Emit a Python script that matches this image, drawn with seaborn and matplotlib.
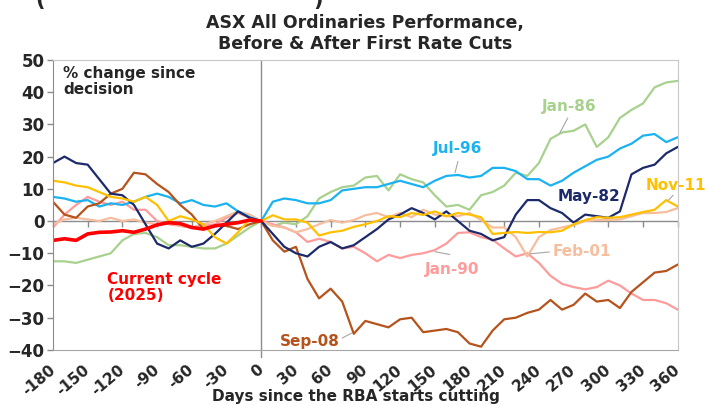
import numpy as np
import pandas as pd
import seaborn as sns
import matplotlib.pyplot as plt

# days since first cut (sampled every 10 days)
days = list(range(-180, 361, 10))
days_current = list(range(-180, 1, 10))

may_82 = [18, 20, 18, 17.5, 13, 8.5, 8, 5, -1, -7, -8.5, -6, -8, -7, -4, -0.5, 3, 1, 0,
          -4, -8, -10, -11, -8, -6.5, -8.5, -7.5, -5, -2.5,
          0.5, 2, 4, 2.5, 0.5, 3, 0, -3, -4, -6,
          -5, 2, 6.5, 6.5, 4, 2.5, -0.5, 2, 1.5, 1,
          3, 14.5, 16.5, 17.5, 21, 23]
jan_86 = [-12.5, -12.5, -13, -12, -11, -10, -6, -4, -3.7, -5, -7.5, -7.5, -8, -8.5, -8.5, -7, -4.5, -2, 0,
          -1.5, -0.5, -1, 1.5, 7, 9, 10.5, 11, 13.5, 14,
          9.5, 14.5, 13, 12, 8, 4.5, 5, 3.5, 8, 9,
          11, 15, 14, 18, 25.5, 27.5, 28, 30, 23, 26,
          32, 34.5, 36.5, 41.5, 43, 43.5]
jan_90 = [-2, 2, 5, 7.5, 6, 5, 6, 3.5, 3.5, 0, -1, -1.5, -2, -1.5, -1, 1, 2.5, 1, 0,
          -1, -2, -3.5, -6.5, -5.5, -6.5, -8.5, -8, -10, -12.5,
          -10.5, -11.5, -10.5, -10, -9, -7, -3.7, -3.5, -5, -5.8,
          -8.5, -11, -10, -13, -17, -19.5, -20.5, -21.2, -20.5, -18.5,
          -20, -22.5, -24.5, -24.5, -25.5, -27.5]
jul_96 = [7.5, 7, 6, 6.5, 4.5, 5.5, 5, 6, 7.5, 8.5, 7.5, 5.5, 6.5, 5, 4.5, 5.5, 3, 1.2, 0,
          6, 7, 6.5, 5.5, 5.5, 6.5, 9.5, 10, 10.5, 10.5,
          11.5, 12.5, 11.5, 10.5, 12.5, 14, 14.3, 13.5, 14, 16.5,
          16.5, 15.5, 13, 13, 11, 12.5, 15, 17, 19, 20,
          22.5, 24, 26.5, 27, 24.5, 26]
feb_01 = [-1, 0.5, 1, 0.5, 0, 1, 0, 0.5, -0.5, -1, -0.5, -1.5, -2, -1, 0, 1.5, 3, 2, 0,
          -1.5, -2, -3.5, -2.5, -1, 0.3, -0.5, 0.3, 1.8, 2.5,
          1.2, 2.5, 1.2, 3.5, 2, 1.5, 1.5, 2.5, 0.3, -2,
          -2, -5, -11, -5, -2.8, -2, -1.2, 0, 0.3, 0.3,
          0.5, 1.5, 2.5, 2.5, 2.8, 4]
sep_08 = [6, 2, 1, 4.5, 5.5, 8.5, 10, 15, 14.5, 11.5, 9, 5, 2, -2.5, -1.5, -1.5, -2.5, -1, 0,
          -6, -9.5, -8, -18, -24, -21, -25, -35, -31, -32,
          -33, -30.5, -30, -34.5, -34, -33.5, -34.5, -38, -39, -34,
          -30.5, -30, -28.5, -27.5, -24.5, -27.5, -26, -22.5, -25, -24.5,
          -27, -22, -19, -16, -15.5, -13.5]
nov_11 = [12.5, 12, 11, 10.5, 9, 7.5, 7, 6, 7.5, 5, 0, 1.5, 0.5, -1, -5, -7, -3.5, 0.5, 0,
          1.8, 0.5, 0.5, -0.5, -4.5, -3.5, -3, -1.8, -1, 0,
          1.5, 1.2, 2.5, 1.9, 3, 1.5, 2.5, 2, 1.2, -4,
          -3.7, -3.4, -3.7, -3.4, -3.5, -3, -1, 0.3, 1.2, 1,
          1.2, 2, 2.8, 3.5, 6.5, 4.5]
current = [-6, -5.5, -6, -4, -3.5, -3.4, -3, -3.5, -2.5, -1.2, -0.5, -0.8, -2, -2.5, -1.5, -1, -0.5, 0.3, 0]

cycles = ['Jan-86', 'Jan-90', 'Feb-01', 'Jul-96', 'Sep-08', 'May-82', 'Nov-11', 'Current cycle (2025)']
values = [jan_86, jan_90, feb_01, jul_96, sep_08, may_82, nov_11, current]
colors = {'Jan-86': '#A9D18E', 'Jan-90': '#FF9B9B', 'Feb-01': '#F6BE9E', 'Jul-96': '#1AB2F0',
          'Sep-08': '#B5531C', 'May-82': '#1C2A6B', 'Nov-11': '#FFC000',
          'Current cycle (2025)': '#FF0000'}
widths = {c: 1.6 for c in cycles}
widths['Current cycle (2025)'] = 2.6

frames = []
for name, vals in zip(cycles, values):
    x = days_current if name.startswith('Current') else days
    frames.append(pd.DataFrame({'day': x, 'pct': vals, 'cycle': name}))
data = pd.concat(frames, ignore_index=True)

sns.set_style('white')
plt.rcParams['font.family'] = ['DejaVu Sans']
plt.rcParams['font.weight'] = 'bold'
plt.rcParams['axes.labelweight'] = 'bold'

fig = plt.figure(figsize=(7.06, 4.05), dpi=100)
ax = fig.add_axes([0.075, 0.136, 0.885, 0.716])

sns.lineplot(data=data, x='day', y='pct', hue='cycle', hue_order=cycles, palette=colors,
             size='cycle', sizes=widths, size_order=cycles, estimator=None,
             legend=False, ax=ax)

grey = '#8C8C8C'
ax.set_xlim(-180, 360)
ax.set_ylim(-40, 50)
ax.axhline(0, color=grey, lw=1, zorder=0)
ax.axvline(0, ymin=-0.025, ymax=1, color=grey, lw=1, zorder=0, clip_on=False)

for side in ['top', 'right']:
    ax.spines[side].set_color('#C8C8C8')
ax.spines['bottom'].set_color('#A6A6A6')
ax.spines['left'].set_color(grey)

ax.set_yticks(range(-40, 51, 10))
ax.tick_params(axis='y', length=4, width=1, color=grey, pad=2, labelsize=12, left=True)
ax.set_xticks(range(-180, 361, 30))
ax.set_xticklabels([str(t) for t in range(-180, 361, 30)], rotation=40, ha='right',
                   va='center', rotation_mode='anchor', fontsize=11)
ax.tick_params(axis='x', length=0, pad=13)

# tick marks along the zero line
zero_axis = ax.secondary_xaxis(40 / 90)
zero_axis.set_alignment('bottom')
zero_axis.set_xticks(range(-180, 361, 30))
zero_axis.tick_params(length=4, width=1, color=grey, labelbottom=False, labeltop=False)
for s in zero_axis.spines.values():
    s.set_visible(False)

ax.set_xlabel('Days since the RBA starts cutting', fontsize=11, fontweight='bold')
ax.xaxis.set_label_coords(0.485, -0.135)
ax.set_ylabel('')
ax.set_title('ASX All Ordinaries Performance,\nBefore & After First Rate Cuts',
             fontsize=12.5, fontweight='bold', pad=8, linespacing=1.2)

ax.text(-171, 48, '% change since\ndecision', fontsize=11, va='top', ha='left', linespacing=1.05)
ax.text(-133, -15.8, 'Current cycle\n(2025)', fontsize=11, va='top', ha='left',
        color=colors['Current cycle (2025)'], linespacing=1.05)

labels = [('Jan-86', 266, 35.4, (265, 32), (258, 27.3)),
          ('Jul-96', 170, 22.4, (170, 18.5), (167.5, 15)),
          ('May-82', 283, 7.5, None, None),
          ('Nov-11', 358, 10.9, (356, 8), (352, 6.5)),
          ('Feb-01', 277, -9.6, (249, -9.6), (232, -10.2)),
          ('Jan-90', 165, -14.9, (163, -10.4), (150, -9.5)),
          ('Sep-08', 42, -37.3, (70, -36.3), (78, -34.8))]
for name, lx, ly, a, b in labels:
    ax.text(lx, ly, name, color=colors[name], fontsize=11, ha='center', va='center')
    if a is not None:
        ax.annotate('', xy=b, xytext=a,
                    arrowprops=dict(arrowstyle='-', color='#A6A6A6', lw=0.8,
                                    shrinkA=0, shrinkB=0))

fig.text(40 / 706, 1.0, '(', fontsize=15, ha='center', va='center')
fig.text(318 / 706, 1.0, ')', fontsize=15, ha='center', va='center')

plt.savefig('out.png', dpi=100)
